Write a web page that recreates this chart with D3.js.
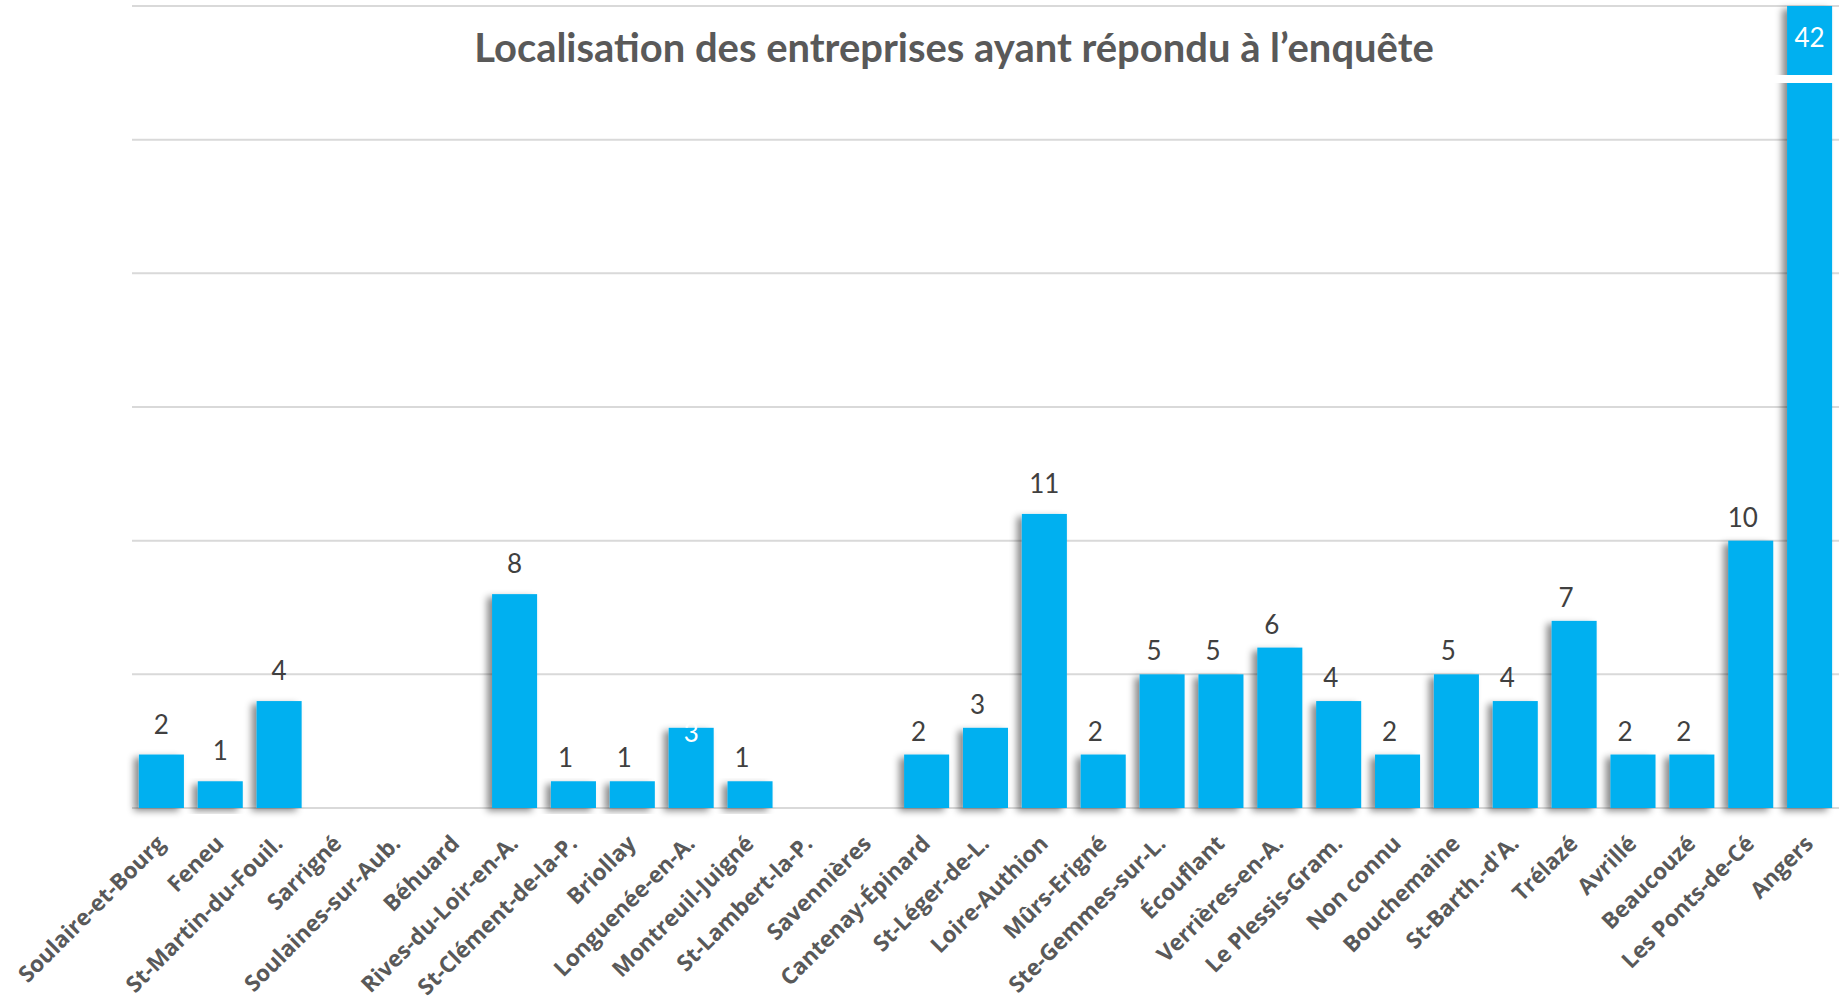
<!DOCTYPE html>
<html>
<head>
<meta charset="utf-8">
<script src="https://cdn.jsdelivr.net/npm/d3@7"></script>
<style>
  body { margin: 0; background: #fff; }
  svg { display: block; }
</style>
</head>
<body>
<svg id="chart"></svg>
<script>
// donnees
var communes = ["Soulaire-et-Bourg", "Feneu", "St-Martin-du-Fouil.", "Sarrigné", "Soulaines-sur-Aub.",
  "Béhuard", "Rives-du-Loir-en-A.", "St-Clément-de-la-P.", "Briollay", "Longuenée-en-A.",
  "Montreuil-Juigné", "St-Lambert-la-P.", "Savennières", "Cantenay-Épinard", "St-Léger-de-L.",
  "Loire-Authion", "Mûrs-Erigné", "Ste-Gemmes-sur-L.", "Écouflant", "Verrières-en-A.",
  "Le Plessis-Gram.", "Non connu", "Bouchemaine", "St-Barth.-d'A.", "Trélazé",
  "Avrillé", "Beaucouzé", "Les Ponts-de-Cé", "Angers"];
var reponses = [2, 1, 4, 0, 0, 0, 8, 1, 1, 3, 1, 0, 0, 2, 3, 11, 2, 5, 5, 6, 4, 2, 5, 4, 7, 2, 2, 10, 42];
var yTicks = [0, 5, 10, 15, 20, 25, 30];
var titre = "Localisation des entreprises ayant répondu à l\u2019enquête";

var W = 1843, H = 1003;
var svg = d3.select("#chart").attr("width", W).attr("height", H);

var x = d3.scaleBand().domain(communes).range([132, 1839]).paddingInner(0.235).paddingOuter(0.117);
var y = d3.scaleLinear().domain([0, 30]).range([808, 6]).clamp(true);

var defs = svg.append("defs");
var f = defs.append("filter").attr("id", "ombre")
  .attr("x", "-50%").attr("y", "-10%").attr("width", "200%").attr("height", "130%");
f.append("feDropShadow").attr("dx", -5).attr("dy", 3).attr("stdDeviation", 3.5)
  .attr("flood-color", "#000").attr("flood-opacity", 0.45);

// lignes de grille
svg.append("g")
  .selectAll("line")
  .data(yTicks)
  .enter()
  .append("line")
  .attr("x1", 132).attr("x2", 1839)
  .attr("y1", d => y(d)).attr("y2", d => y(d))
  .style("stroke", "#d9d9d9")
  .style("stroke-width", 2);

var data = communes.map((c, i) => ({ nom: c, val: reponses[i], i: i }));

svg.append("g")
  .selectAll("rect")
  .data(data.filter(d => d.val > 0))
  .enter()
  .append("rect")
  .attr("x", d => x(d.nom))
  .attr("width", x.bandwidth())
  .attr("y", d => y(d.val))
  .attr("height", d => y(0) - y(d.val))
  .style("fill", "#00b0f0")
  .attr("filter", "url(#ombre)");

// coupure de la barre hors echelle (Angers)
var horsEchelle = data.filter(d => d.val > 30);
svg.append("g")
  .selectAll("rect")
  .data(horsEchelle)
  .enter()
  .append("rect")
  .attr("x", d => x(d.nom) - 14)
  .attr("width", x.bandwidth() + 16)
  .attr("y", 75)
  .attr("height", 8)
  .style("fill", "#fff");

// etiquettes de valeurs (positions un peu decalees comme dans excel)
function dedans(d) { return d.val > 30 || d.nom === "Longuenée-en-A."; }
function centre(d) { return d.i < 7 || d.nom === "Loire-Authion"; }
svg.append("g")
  .selectAll("text")
  .data(data.filter(d => d.val > 0))
  .enter()
  .append("text")
  .attr("x", function (d) {
    var cx = x(d.nom) + x.bandwidth() / 2;
    if (dedans(d) || centre(d)) return cx;
    return cx - 8;
  })
  .attr("y", function (d) {
    if (d.val > 30) return y(d.val) + 41;
    if (dedans(d)) return y(d.val) + 14;
    if (centre(d)) return y(d.val) - 21;
    return y(d.val) - 14;
  })
  .text(d => d.val)
  .style("text-anchor", "middle")
  .style("font-family", "Lato, sans-serif")
  .style("font-size", "26px")
  .style("fill", d => dedans(d) ? "#fff" : "#404040");

// libelles de l'axe
svg.append("g")
  .selectAll("text")
  .data(communes)
  .enter()
  .append("text")
  .attr("transform", d => "translate(" + (x(d) + x.bandwidth() / 2 + 5) + ",845) rotate(-45)")
  .text(d => d)
  .style("text-anchor", "end")
  .style("font-family", "'Open Sans', sans-serif")
  .style("font-weight", "bold")
  .style("font-size", "22.5px")
  .style("fill", "#595959");

// titre
var t = svg.append("text")
  .attr("x", 954)
  .attr("y", 62)
  .text(titre)
  .style("text-anchor", "middle")
  .style("font-family", "Lato, sans-serif")
  .style("font-weight", "bold")
  .style("font-size", "36px")
  .style("fill", "#595959");
var largeur = t.node().getComputedTextLength();
t.style("font-size", (36 * 960 / largeur) + "px");
</script>
</body>
</html>
